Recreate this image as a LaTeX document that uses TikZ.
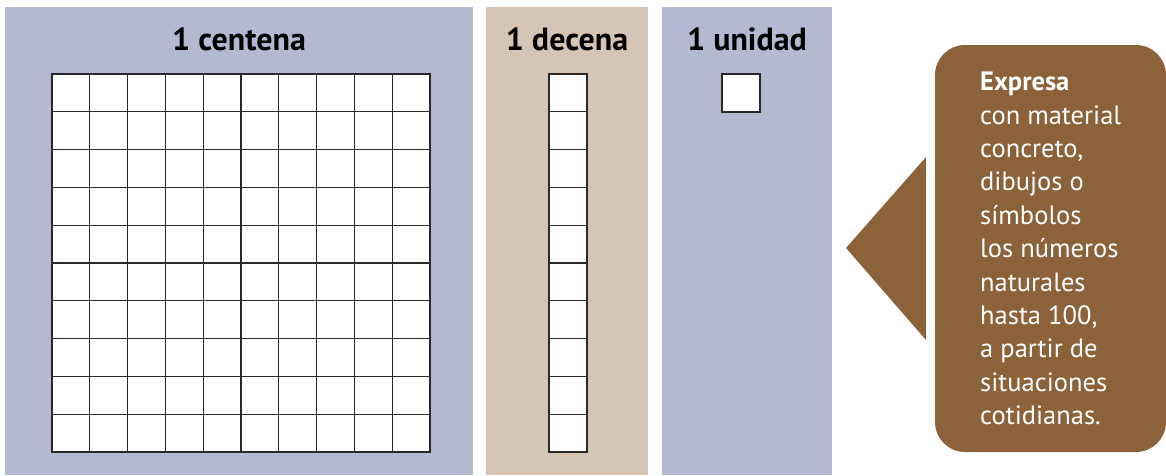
\documentclass[tikz,border=0pt]{standalone}
\usepackage{fontspec}
\setmainfont{PT Sans}
\definecolor{panelblue}{RGB}{180,185,210}
\definecolor{paneltan}{RGB}{214,197,180}
\definecolor{callbrown}{RGB}{139,98,57}
\definecolor{gridline}{RGB}{40,40,40}
\tikzset{
  title/.style={font=\fontsize{32}{38}\selectfont\bfseries, anchor=base, inner sep=0pt},
  gline/.style={draw=gridline, line width=1.1pt},
  gborder/.style={draw=gridline, line width=1.4pt},
}
\begin{document}
\begin{tikzpicture}[x=1pt,y=-1pt]
\useasboundingbox (0,0) rectangle (1166,475);
% panels
\fill[panelblue] (5,7) rectangle (473,475);
\fill[paneltan] (486,7) rectangle (648,475);
\fill[panelblue] (662,7) rectangle (832,475);
% titles
\node[title] (tc) at (239,50) {1 centena};
\node[title] (td) at (567,50) {1 decena};
\node[title] (tu) at (747,50) {1 unidad};
% hundred grid
\fill[white] (52,74) rectangle (430,452);
\foreach \i in {1,...,9} {
  \draw[gline] (52+37.8*\i,74) -- (52+37.8*\i,452);
  \draw[gline] (52,74+37.8*\i) -- (430,74+37.8*\i);
}
\draw[gborder] (52,74) rectangle (430,452);
% ten column
\fill[white] (549,74) rectangle (587,452);
\foreach \i in {1,...,9} \draw[gline] (549,74+37.8*\i) -- (587,74+37.8*\i);
\draw[gborder] (549,74) rectangle (587,452);
% unit
\draw[gborder, fill=white] (722,74) rectangle (760,112);
% callout
\fill[callbrown, rounded corners=30pt] (935,45) rectangle (1166,452);
\fill[callbrown] (846,248) -- (926,157) -- (926,340) -- cycle;
\node[anchor=north west, inner sep=0pt, align=left, text=white,
      font=\fontsize{26.5}{33.4}\selectfont] (txt) at (980,72)
  {\textbf{Expresa}\\con material\\concreto,\\dibujos o\\símbolos\\los números\\naturales\\hasta 100,\\a partir de\\situaciones\\cotidianas.};
\end{tikzpicture}
\end{document}
